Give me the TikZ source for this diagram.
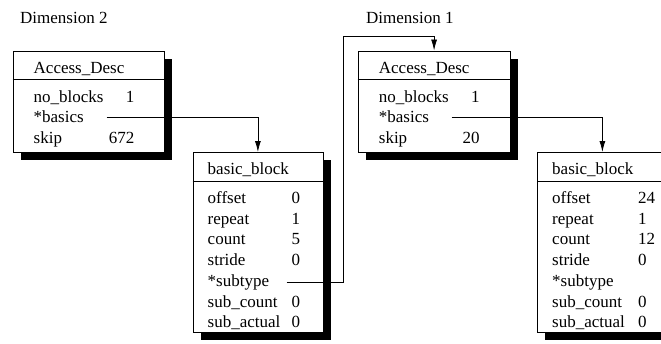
\documentclass[tikz,border=0pt]{standalone}
\usepackage{fontspec}
\setmainfont{Liberation Serif}
\usetikzlibrary{positioning,calc,arrows.meta,shadows}
\tikzset{structbox/.style={draw,fill=white,line width=0.8pt,rectangle,anchor=north west,inner sep=0pt,
    general shadow={fill=black,shadow xshift=8pt,shadow yshift=-8pt}}  }
\tikzset{fld/.style={anchor=base west,inner sep=0pt}  }
\tikzset{val/.style={anchor=base east,inner sep=0pt}  }
\tikzset{ptr/.style={line width=0.8pt,-{Latex[length=11pt,width=6pt]}}  }
\tikzset{>={Latex}}

\begin{document}
\begin{tikzpicture}[x=1pt,y=-1pt,font=\fontsize{17pt}{20pt}\selectfont]
\clip (0,0) rectangle (661,343);

% Dimension 2
\node[fld] (dim2) at (20,23) {Dimension 2};

\node[structbox,minimum width=151pt,minimum height=101pt] (ad2) at (12.5,50.5) {};
\draw[line width=0.8pt] ($(ad2.north west)+(0,29)$) -- ($(ad2.north east)+(0,29)$);
\node[fld] (ad2t) at ($(ad2.north west)+(21,22.5)$) {Access\_Desc};
\node[fld] (ad2f1) at ($(ad2.north west)+(21,51.5)$) {no\_blocks};
\node[fld] (ad2f2) at ($(ad2.north west)+(21,72.2)$) {*basics};
\node[fld] (ad2f3) at ($(ad2.north west)+(21,92.9)$) {skip};
\node[val] (ad2v1) at ($(ad2.north west)+(122,51.5)$) {1};
\node[val] (ad2v3) at ($(ad2.north west)+(122,92.9)$) {672};
\coordinate (ad2p) at ($(ad2.north west)+(94,67)$);

\node[structbox,minimum width=130pt,minimum height=180pt] (bb2) at (192.5,152) {};
\draw[line width=0.8pt] ($(bb2.north west)+(0,29)$) -- ($(bb2.north east)+(0,29)$);
\node[fld] (bb2t) at ($(bb2.north west)+(15,22.5)$) {basic\_block};
\node[fld] (bb2f1) at ($(bb2.north west)+(15,51.5)$) {offset};
\node[fld] (bb2f2) at ($(bb2.north west)+(15,72.2)$) {repeat};
\node[fld] (bb2f3) at ($(bb2.north west)+(15,92.9)$) {count};
\node[fld] (bb2f4) at ($(bb2.north west)+(15,113.6)$) {stride};
\node[fld] (bb2f5) at ($(bb2.north west)+(15,134.3)$) {*subtype};
\node[fld] (bb2f6) at ($(bb2.north west)+(15,155)$) {sub\_count};
\node[fld] (bb2f7) at ($(bb2.north west)+(15,175.7)$) {sub\_actual};
\node[fld] (bb2v1) at ($(bb2.north west)+(99,51.5)$) {0};
\node[fld] (bb2v2) at ($(bb2.north west)+(99,72.2)$) {1};
\node[fld] (bb2v3) at ($(bb2.north west)+(99,92.9)$) {5};
\node[fld] (bb2v4) at ($(bb2.north west)+(99,113.6)$) {0};
\node[fld] (bb2v6) at ($(bb2.north west)+(99,155)$) {0};
\node[fld] (bb2v7) at ($(bb2.north west)+(99,175.7)$) {0};
\coordinate (bb2p) at ($(bb2.north west)+(94,130.3)$);

% Dimension 1
\node[fld] (dim1) at (366,23) {Dimension 1};

\node[structbox,minimum width=152pt,minimum height=101pt] (ad1) at (357.7,50.5) {};
\draw[line width=0.8pt] ($(ad1.north west)+(0,29)$) -- ($(ad1.north east)+(0,29)$);
\node[fld] (ad1t) at ($(ad1.north west)+(21,22.5)$) {Access\_Desc};
\node[fld] (ad1f1) at ($(ad1.north west)+(21,51.5)$) {no\_blocks};
\node[fld] (ad1f2) at ($(ad1.north west)+(21,72.2)$) {*basics};
\node[fld] (ad1f3) at ($(ad1.north west)+(21,92.9)$) {skip};
\node[val] (ad1v1) at ($(ad1.north west)+(122,51.5)$) {1};
\node[val] (ad1v3) at ($(ad1.north west)+(122,92.9)$) {20};
\coordinate (ad1p) at ($(ad1.north west)+(94,67)$);

\node[structbox,minimum width=130pt,minimum height=180pt] (bb1) at (537,152) {};
\draw[line width=0.8pt] ($(bb1.north west)+(0,29)$) -- ($(bb1.north east)+(0,29)$);
\node[fld] (bb1t) at ($(bb1.north west)+(15,22.5)$) {basic\_block};
\node[fld] (bb1f1) at ($(bb1.north west)+(15,51.5)$) {offset};
\node[fld] (bb1f2) at ($(bb1.north west)+(15,72.2)$) {repeat};
\node[fld] (bb1f3) at ($(bb1.north west)+(15,92.9)$) {count};
\node[fld] (bb1f4) at ($(bb1.north west)+(15,113.6)$) {stride};
\node[fld] (bb1f5) at ($(bb1.north west)+(15,134.3)$) {*subtype};
\node[fld] (bb1f6) at ($(bb1.north west)+(15,155)$) {sub\_count};
\node[fld] (bb1f7) at ($(bb1.north west)+(15,175.7)$) {sub\_actual};
\node[fld] (bb1v1) at ($(bb1.north west)+(101,51.5)$) {24};
\node[fld] (bb1v2) at ($(bb1.north west)+(101,72.2)$) {1};
\node[fld] (bb1v3) at ($(bb1.north west)+(101,92.9)$) {12};
\node[fld] (bb1v4) at ($(bb1.north west)+(101,113.6)$) {0};
\node[fld] (bb1v6) at ($(bb1.north west)+(101,155)$) {0};
\node[fld] (bb1v7) at ($(bb1.north west)+(101,175.7)$) {0};

% pointers
\coordinate (up) at (343,36);
\draw[ptr] (ad2p) -| (bb2.north);
\draw[ptr] (bb2p) -| (up) -| (ad1.north);
\draw[ptr] (ad1p) -| (bb1.north);

\end{tikzpicture}
\end{document}
